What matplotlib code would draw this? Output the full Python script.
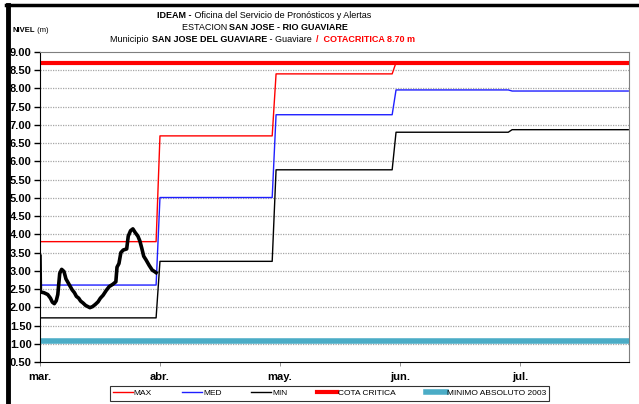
import numpy as np
import matplotlib
matplotlib.use("Agg")
import matplotlib.pyplot as plt
from matplotlib.lines import Line2D

plt.rcParams["font.family"] = ["Liberation Sans", "DejaVu Sans"]

# niveles observados (dias desde el 1 de marzo, metros)
obs_dia = [0, 0.1, 1.0, 2.0, 2.7, 3.2, 3.7, 4.2, 4.6, 4.9, 5.1, 5.6, 6.2, 6.7, 7.5,
           8.3, 8.9, 9.4, 10.0, 10.5, 11.1, 11.8, 12.9, 13.6, 14.3, 15.0, 15.6,
           16.3, 17.1, 17.9, 18.8, 19.6, 19.9, 20.4, 20.9, 21.5, 22.4, 22.8, 23.4,
           24.0, 24.6, 25.3, 25.8, 26.3, 26.8, 27.4, 28.2, 29.0, 29.6, 30.0]
obs_nivel = [3.40, 2.42, 2.40, 2.35, 2.25, 2.14, 2.10, 2.18, 2.35, 2.70, 2.93, 3.04,
             2.98, 2.78, 2.63, 2.48, 2.40, 2.30, 2.25, 2.17, 2.12, 2.05, 1.99, 2.02,
             2.08, 2.15, 2.25, 2.33, 2.46, 2.57, 2.63, 2.70, 3.10, 3.20, 3.50, 3.57,
             3.60, 3.95, 4.10, 4.15, 4.05, 3.95, 3.82, 3.62, 3.40, 3.30, 3.15, 3.02,
             2.98, 2.95]

# valores historicos mensuales mar-jul
mes_inicio = [0, 31, 61, 92, 122]
mes_fin = [30, 60, 91, 121, 152]
nivel_max = [3.80, 6.70, 8.40, 8.71, 8.71]
nivel_med = [2.61, 5.01, 7.28, 7.96, 7.93]
nivel_min = [1.71, 3.26, 5.77, 6.80, 6.87]
cota_critica = 8.70
minimo_2003 = 1.08

meses = ["mar.", "abr.", "may.", "jun.", "jul."]
yticks = np.arange(0.5, 9.01, 0.5)


def escalones(vals):
    xs, ys = [], []
    for a, b, v in zip(mes_inicio, mes_fin, vals):
        xs += [a, b]
        ys += [v, v]
    return xs, ys


fig = plt.figure(figsize=(6.39, 4.04), dpi=100)
ax = fig.add_axes([40 / 639, 1 - 362 / 404, 589 / 639, 310 / 404])

for y in yticks[1:-1]:
    ax.axhline(y, color="#a6a6a6", lw=0.9, ls=(0, (1, 1)), zorder=0)

ax.plot(*escalones(nivel_max), color="#ff0000", lw=1, label="MAX")
ax.plot(*escalones(nivel_med), color="#1f1fff", lw=1, label="MED")
ax.plot(*escalones(nivel_min), color="black", lw=1, label="MIN")
ax.axhline(cota_critica, color="#ff0000", lw=3, label="COTA CRITICA")
ax.axhline(minimo_2003, color="#4bacc6", lw=4, label="MINIMO ABSOLUTO 2003")
ax.plot(obs_dia, obs_nivel, color="black", lw=2.6, solid_joinstyle="round", zorder=5)

ax.set_xlim(0, 152.2)
ax.set_ylim(0.5, 9.0)
ax.set_yticks(yticks)
ax.set_yticklabels(["%.2f" % v for v in yticks], fontweight="bold", fontsize=8)
ax.set_xticks([31 * i for i in range(len(meses))])
ax.set_xticklabels(meses, fontweight="bold", fontsize=8)
ax.tick_params(axis="y", length=4, width=1, pad=2)
ax.tick_params(axis="x", length=3, width=0.6, color="#808080", pad=4)
for s in ["top", "right"]:
    ax.spines[s].set_color("#7f7f7f")
for s in ["left", "bottom"]:
    ax.spines[s].set_color("black")

leg = fig.legend(handles=ax.get_legend_handles_labels()[0], ncol=5, loc="center",
                 bbox_to_anchor=(329.5 / 639, 1 - 393.5 / 404), fontsize=6,
                 frameon=True, fancybox=False, handlelength=2.4, handletextpad=0.1,
                 columnspacing=3.6, borderpad=0.4, borderaxespad=0)
leg.get_frame().set_edgecolor("black")
leg.get_frame().set_linewidth(0.8)

# marco exterior
fig.add_artist(Line2D([7.5 / 639, 7.5 / 639], [0, 1 - 4.5 / 404], color="black",
                      lw=3.5, transform=fig.transFigure))
fig.add_artist(Line2D([6 / 639, 1], [1 - 4.5 / 404, 1 - 4.5 / 404], color="black",
                      lw=2.5, transform=fig.transFigure))

renderer = fig.canvas.get_renderer()


def linea(x0, cy, partes, size, centrar=True):
    textos = []
    for txt, peso, color in partes:
        t = fig.text(0, 1 - cy / 404, txt, fontsize=size, fontweight=peso, color=color,
                     va="center", ha="left")
        textos.append(t)
    anchos = [t.get_window_extent(renderer).width for t in textos]
    x = x0 - sum(anchos) / 2 if centrar else x0
    for t, w in zip(textos, anchos):
        t.set_x(x / 639)
        x += w


linea(264, 15, [("IDEAM -", "bold", "black"),
                (" Oficina del Servicio de Pronósticos y Alertas", "normal", "black")], 6.5)
linea(265, 27, [("ESTACION ", "normal", "black"),
                ("SAN JOSE - RIO GUAVIARE", "bold", "black")], 6.5)
linea(263, 40, [("Municipio ", "normal", "black"),
                ("SAN JOSE DEL GUAVIARE", "bold", "black"),
                (" - Guaviare  ", "normal", "black"),
                ("/  COTACRITICA 8.70 m", "bold", "#ff0000")], 6.5)

linea(12.5, 30, [("NIVEL", "bold", "black"), (" (m)", "normal", "black")], 5.5,
      centrar=False)

fig.savefig("out.png", dpi=100)
